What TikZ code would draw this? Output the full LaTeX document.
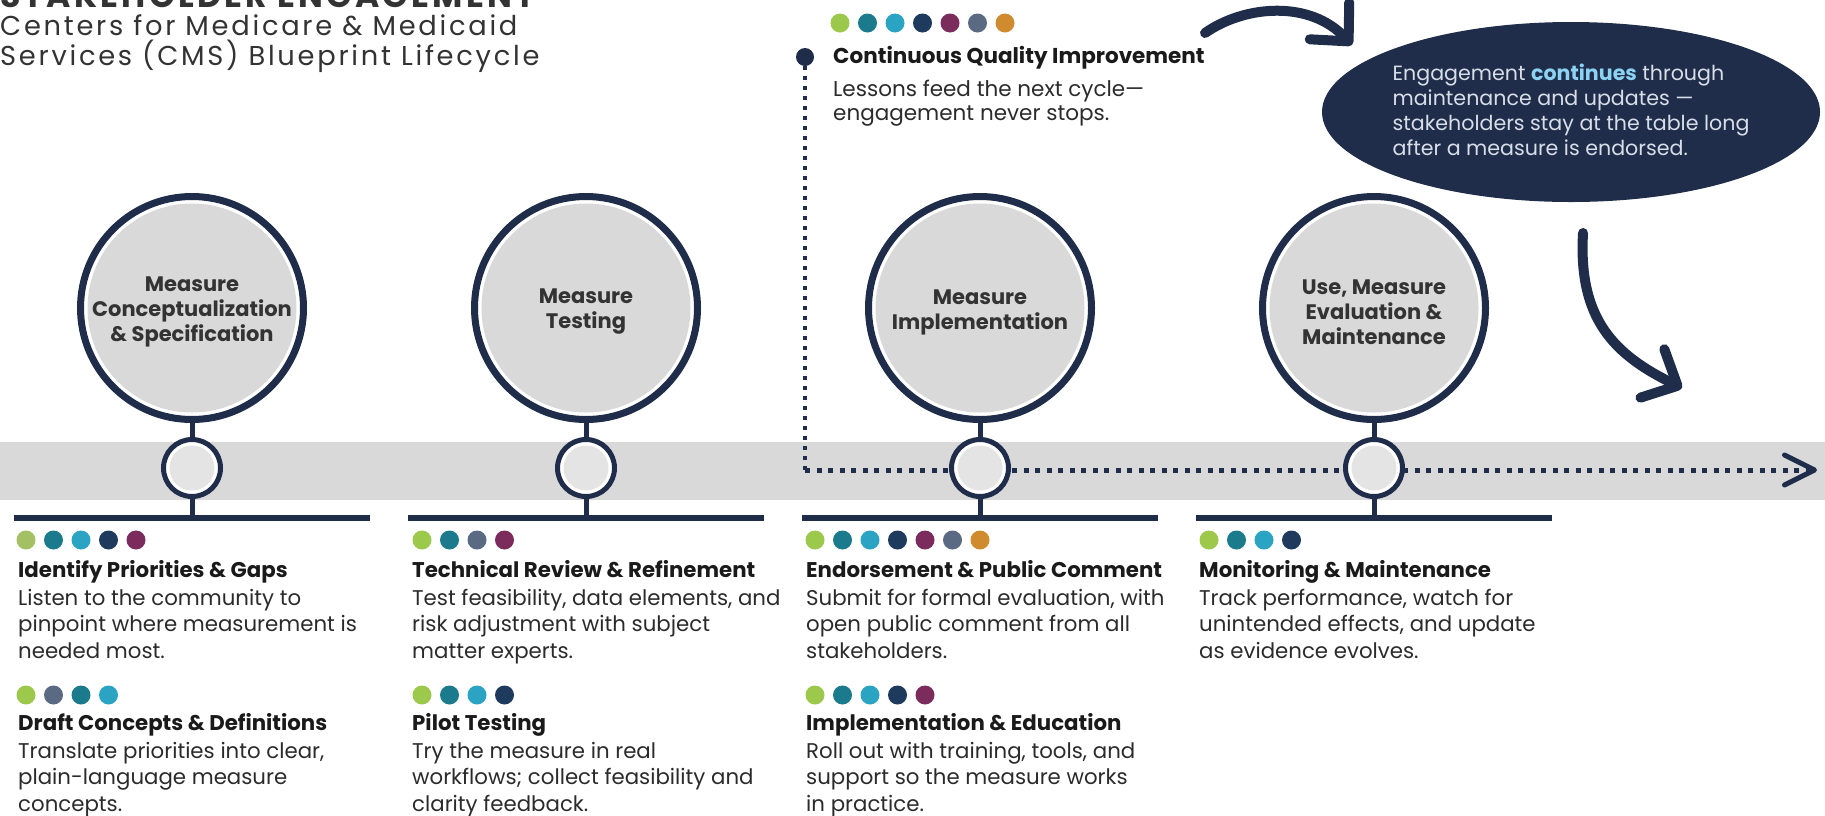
\documentclass[tikz,border=0pt]{standalone}
\usepackage{fontspec}
\setmainfont{Poppins}
\newfontfamily\trackedfont[LetterSpace=10]{Poppins}
\usetikzlibrary{positioning, shapes.geometric, arrows.meta}

\definecolor{ink}{HTML}{1F2D4A}
\definecolor{band}{HTML}{D9D9D9}
\definecolor{core}{HTML}{D9D9D9}
\definecolor{hubfill}{HTML}{E4E4E4}
\definecolor{label}{HTML}{333333}
\definecolor{head}{HTML}{1A1A1A}
\definecolor{body}{HTML}{2B2B2B}
\definecolor{pale}{HTML}{D8DEE8}
\definecolor{sky}{HTML}{8CD2F2}
\definecolor{sage}{HTML}{A4C064}
\definecolor{lime}{HTML}{9CC84B}
\definecolor{teal}{HTML}{1B7A8C}
\definecolor{cyan}{HTML}{2BA4C3}
\definecolor{navy}{HTML}{1E3B5E}
\definecolor{plum}{HTML}{7B2B5C}
\definecolor{slate}{HTML}{5A6A82}
\definecolor{amber}{HTML}{D08B2F}

\newcommand{\cardhead}[1]{\textbf{\color{head}#1}}

\tikzset{
  stage/.style={circle, draw=ink, line width=7pt, fill=white, minimum size=223pt, inner sep=0pt},
  stagecore/.style={circle, fill=core, minimum size=209pt, inner sep=0pt},
  stagename/.style={align=center, inner sep=0pt, text=label, font=\bfseries\fontsize{21}{25}\selectfont},
  hub/.style={circle, draw=ink, line width=5pt, fill=white, minimum size=57pt, inner sep=0pt},
  hubcore/.style={circle, fill=hubfill, minimum size=45pt, inner sep=0pt},
  stem/.style={draw=ink, line width=5pt},
  shelf/.style={draw=ink, line width=6pt},
  card/.style={anchor=base west, align=left, inner sep=0pt, text=body, font=\fontsize{21.3}{26.5}\selectfont},
  trail/.style={draw=ink, line width=5pt, dash pattern=on 5pt off 6.5pt},
  swoop/.style={draw=ink, line width=10pt, line cap=round, -{Straight Barb[length=28pt, width=54pt, round]}},
}

\begin{document}
\begin{tikzpicture}[x=1pt, y=-1pt]
  \useasboundingbox (0,0) rectangle (1825,815);
  \clip (0,0) rectangle (1825,815);

  % timeline band
  \fill[band] (0,442) rectangle (1825,500);

  % title (base = last line)
  \node[anchor=base west, inner sep=0pt, text=label, font=\trackedfont\bfseries\fontsize{33}{36}\selectfont] (title) at (0,7) {STAKEHOLDER ENGAGEMENT};
  \node[anchor=base west, inner sep=0pt, align=left, text=label, font=\trackedfont\fontsize{27.3}{30}\selectfont] (subtitle) at (0,65) {Centers for Medicare \& Medicaid\\Services (CMS) Blueprint Lifecycle};

  % continuous quality improvement loop
  \node[circle, fill=ink, minimum size=18pt, inner sep=0pt] (cqidot) at (805,57) {};
  \coordinate (bend) at (805,470);
  \coordinate (loopend) at (1817,470);
  \draw[trail, line width=4pt, dash pattern=on 4pt off 6pt] (cqidot) -- (bend);
  \draw[trail, -{Straight Barb[length=30pt, width=30pt, round]}] (bend) -- (loopend);

  % stages
  \foreach \i/\x/\lab in {1/192/{Measure\\Conceptualization\\\& Specification},
                          2/586/{Measure\\Testing},
                          3/980/{Measure\\Implementation},
                          4/1374/{Use, Measure\\Evaluation \&\\Maintenance}} {
    \node[stage] (stage\i) at (\x,308) {};
    \node[stagecore] (core\i) at (stage\i) {};
    \node[stagename] (name\i) at ([yshift=-4pt]stage\i.center) {\lab};
    \node[hub] (hub\i) at (\x,468) {};
    \node[hubcore] (hubcore\i) at (hub\i) {};
    \coordinate (shelf\i) at (\x,518);
    \draw[stem] (stage\i) -- (hub\i);
    \draw[stem] (hub\i) -- (shelf\i);
    \draw[shelf] (\x-178,518) -- (\x+178,518);
  }

  % stakeholder dots
  \foreach \x/\y/\cols in {26/540/{sage,teal,cyan,navy,plum},
                           26/695/{lime,slate,teal,cyan},
                           422/540/{lime,teal,slate,plum},
                           422/695/{lime,teal,cyan,navy},
                           815/540/{lime,teal,cyan,navy,plum,slate,amber},
                           815/695/{lime,teal,cyan,navy,plum},
                           1209/540/{lime,teal,cyan,navy},
                           840/23/{lime,teal,cyan,navy,plum,slate,amber}}
    \foreach \c [count=\k from 0] in \cols
      \fill[\c] (\x+27.5*\k,\y) circle (9.5);

  % cards (placed at the baseline of their last line)
  \node[card] (card11) at (18,658) {\cardhead{Identify Priorities \& Gaps}\\[1.5pt]Listen to the community to\\pinpoint where measurement is\\needed most.};
  \node[card] (card12) at (18,811) {\cardhead{Draft Concepts \& Definitions}\\[1.5pt]Translate priorities into clear,\\plain-language measure\\concepts.};
  \node[card] (card21) at (412,658) {\cardhead{Technical Review \& Refinement}\\[1.5pt]Test feasibility, data elements, and\\risk adjustment with subject\\matter experts.};
  \node[card] (card22) at (412,811) {\cardhead{Pilot Testing}\\[1.5pt]Try the measure in real\\workflows; collect feasibility and\\clarity feedback.};
  \node[card] (card31) at (806,658) {\cardhead{Endorsement \& Public Comment}\\[1.5pt]Submit for formal evaluation, with\\open public comment from all\\stakeholders.};
  \node[card] (card32) at (806,811) {\cardhead{Implementation \& Education}\\[1.5pt]Roll out with training, tools, and\\support so the measure works\\in practice.};
  \node[card] (card41) at (1199,658) {\cardhead{Monitoring \& Maintenance}\\[1.5pt]Track performance, watch for\\unintended effects, and update\\as evidence evolves.};
  \node[card, font=\fontsize{21.5}{24}\selectfont] (cqi) at (833,120) {\cardhead{Continuous Quality Improvement}\\[9pt]Lessons feed the next cycle—\\engagement never stops.};

  % engagement note
  \node[ellipse, fill=ink, minimum width=498pt, minimum height=180pt, inner sep=0pt] (note) at (1571,112) {};
  \node[align=left, inner sep=0pt, text=pale, font=\fontsize{20.6}{25}\selectfont] (notetext) at ([yshift=2pt]note.center) {Engagement \textbf{\color{sky}continues} through\\maintenance and updates —\\stakeholders stay at the table long\\after a measure is endorsed.};

  % swoops
  \coordinate (swoopA) at (1205,33);
  \coordinate (swoopB) at (1352,45);
  \coordinate (swoopC) at (1583,233);
  \coordinate (swoopD) at (1682,388);
  \draw[swoop] (swoopA) .. controls (1245,5) and (1310,0) .. (swoopB);
  \draw[swoop] (swoopC) .. controls (1578,320) and (1615,355) .. (swoopD);
\end{tikzpicture}
\end{document}
